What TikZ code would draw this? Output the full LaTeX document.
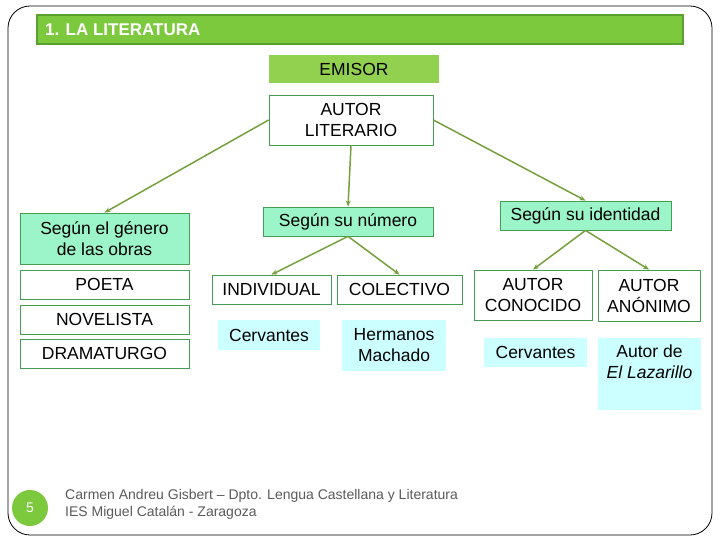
\documentclass[tikz,border=0pt]{standalone}
\usepackage{fontspec}
\setmainfont{Liberation Sans}
\usetikzlibrary{arrows.meta,positioning}

\definecolor{barfill}{RGB}{125,201,62}
\definecolor{bardraw}{RGB}{88,160,48}
\definecolor{emisorfill}{RGB}{146,208,80}
\definecolor{boxdraw}{RGB}{70,155,85}
\definecolor{mintfill}{RGB}{155,245,200}
\definecolor{cyanfill}{RGB}{204,255,255}
\definecolor{linkgreen}{RGB}{118,160,62}
\definecolor{footgray}{RGB}{90,90,90}

\begin{document}
\begin{tikzpicture}[
            x=1pt, y=-1pt,
            node distance=5pt,
            every node/.style={font=\fontsize{17.5}{21}\selectfont, align=center, inner sep=2pt},
            whitebox/.style={draw=boxdraw, fill=white, line width=0.8pt, minimum height=29pt},
            mintbox/.style={draw=boxdraw, fill=mintfill, line width=0.8pt, minimum height=29pt},
            cyanbox/.style={fill=cyanfill, minimum height=30pt},
            link/.style={draw=linkgreen, line width=1.5pt, -{Stealth[length=6pt,width=5pt]}}
        ]
        \useasboundingbox (0,0) rectangle (720,540);
        % slide frame
        \draw[line width=0.8pt, rounded corners=22pt] (8,6) rectangle (712,535);

        % title bar
        \node[fill=barfill, draw=bardraw, line width=1.5pt, minimum width=646pt, minimum height=29pt] (bar) at (360,29.5) {};
        \node[anchor=west, text=white, font=\fontsize{17}{20}\selectfont\bfseries] (title) at (43,30) {1. LA LITERATURA};

        \node[fill=emisorfill, minimum width=170pt, minimum height=28pt] (emisor) at (354,69) {EMISOR};
        \node[whitebox, minimum width=164pt, minimum height=50pt] (autor) at (351,120) {AUTOR\\LITERARIO};

        % segun el genero
        \node[mintbox, minimum width=169pt, minimum height=51pt] (genero) at (104.5,238.5) {Según el género\\de las obras};
        \node[whitebox, minimum width=169pt, below=5.5pt of genero] (poeta) {POETA};
        \node[whitebox, minimum width=169pt, below=of poeta] (novelista) {NOVELISTA};
        \node[whitebox, minimum width=169pt, below=4pt of novelista] (drama) {DRAMATURGO};

        % segun su numero
        \node[mintbox, minimum width=170pt] (numero) at (348,221.5) {Según su número};
        \node[whitebox, minimum width=119pt] (indiv) at (271.5,289.5) {INDIVIDUAL};
        \node[whitebox, minimum width=125pt] (colec) at (399.5,289.5) {COLECTIVO};
        \node[cyanbox, minimum width=102pt] (cerva) at (269,335) {Cervantes};
        \node[cyanbox, minimum width=104pt, minimum height=51pt] (machado) at (394,345.5) {Hermanos\\Machado};

        % segun su identidad
        \node[mintbox, minimum width=171pt] (ident) at (585.5,215.5) {Según su identidad};
        \node[whitebox, minimum width=118pt, minimum height=50pt] (conoc) at (533,295) {AUTOR\\CONOCIDO};
        \node[whitebox, minimum width=102pt, minimum height=51pt] (anon) at (649,295.5) {AUTOR\\ANÓNIMO};
        \node[cyanbox, minimum width=103pt, minimum height=29pt] (cervb) at (535.5,352.5) {Cervantes};
        \node[cyanbox, minimum width=103pt, minimum height=72pt, anchor=north,
              label={[anchor=north, inner sep=6.5pt]north:Autor de\\\textit{El Lazarillo}}] (lazarillo) at (649.5,338) {};

        \draw[link] (autor.west) -- (genero.north);
        \draw[link] (autor.south) -- (numero.north);
        \draw[link] (autor.east) -- (ident.north);
        \draw[link] (numero.south) -- (indiv.north);
        \draw[link] (numero.south) -- (colec.north);
        \draw[link] (ident.south) -- (conoc.north);
        \draw[link] (ident.south) -- (anon.north);

        % footer
        \node[circle, fill=barfill, minimum size=36pt, text=white, font=\fontsize{14}{16}\selectfont] (num) at (30,508) {5};
        \node[anchor=west, align=left, text=footgray, font=\fontsize{14}{17}\selectfont] (foot) at (63,504) {Carmen Andreu Gisbert – Dpto. Lengua Castellana y Literatura\\IES Miguel Catalán - Zaragoza};
    \end{tikzpicture}
\end{document}
